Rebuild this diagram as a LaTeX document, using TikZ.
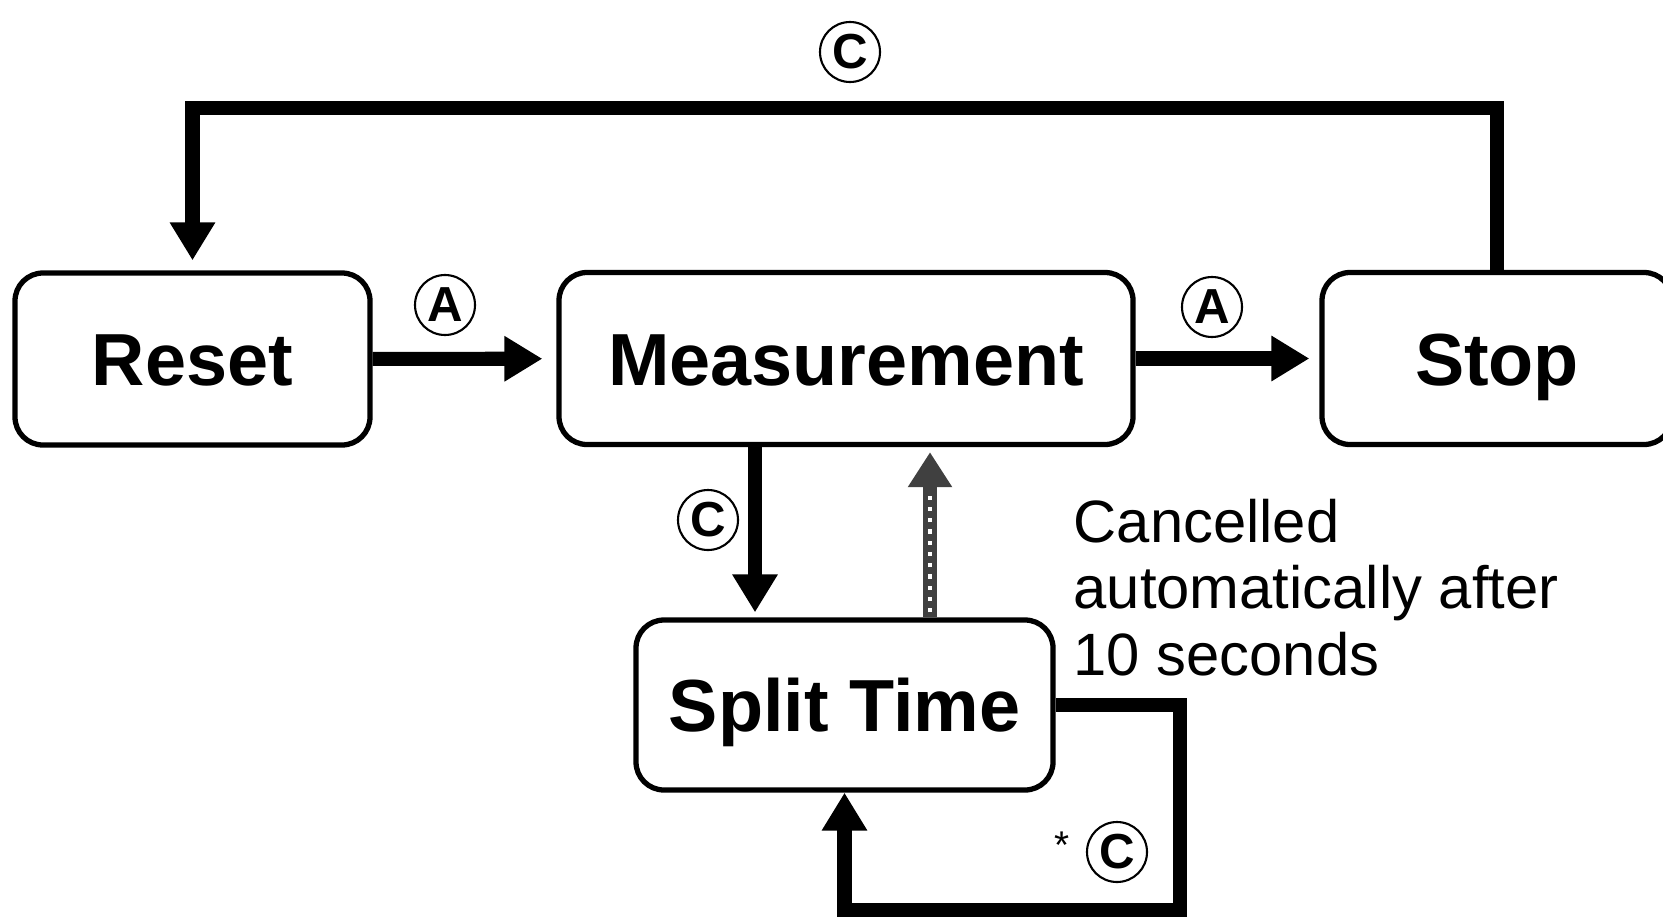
\documentclass[tikz,border=0pt]{standalone}
\usepackage{fontspec}
\setmainfont{Liberation Sans}
\usetikzlibrary{arrows.meta}
\newcommand{\boxFont}{\fontsize{21}{25}\selectfont\bfseries}
\newcommand{\noteFont}{\fontsize{17}{18.8}\selectfont}
\newcommand{\keyFont}{\fontsize{14}{16}\selectfont\bfseries}
\newcommand{\headTip}{Triangle[length=0.38cm,width=0.43cm]}

\begin{document}
\begin{tikzpicture}[
      state/.style={draw, line width=1.5pt, rounded corners=0.28cm, font=\boxFont,
         minimum height=1.72cm, inner sep=0pt, text height=15.2pt, text depth=0pt},
      flow/.style={line width=4pt, -{\headTip}},
      key/.style={circle, draw, line width=0.6pt, minimum size=0.6cm, inner sep=0pt,
         font=\keyFont}]
         \useasboundingbox (0,0) rectangle (16.63,-9.18);
         \clip (0,0) rectangle (16.63,-9.18);

         \node[state, minimum width=3.55cm] (reset) at (1.925,-3.59) {Reset};
         \node[state, minimum width=5.74cm] (meas) at (8.46,-3.585) {Measurement};
         \node[state, minimum width=3.50cm] (stop) at (14.97,-3.585) {Stop};
         \node[state, minimum width=4.17cm, minimum height=1.70cm] (split) at (8.445,-7.05) {Split Time};

         \coordinate (toprow) at (0,-1.08);
         \coordinate (downcol) at (7.55,0);
         \coordinate (backcol) at (9.30,0);
         \coordinate (loopcorner) at (11.80,-9.10);

         \draw[flow, shorten >=0.14cm] (reset) -- (meas);
         \draw[flow, shorten >=0.10cm] (meas) -- (stop);
         \draw[flow, shorten >=0.10cm] (stop.north) -- (stop.north |- toprow) -| (reset.north);
         \draw[flow, shorten >=0.05cm] (meas.south -| downcol) -- (split.north -| downcol);
         \draw[flow] (split.east) -| (loopcorner) -| (split.south);

         \draw[line width=4pt, black!75, -{Triangle[length=0.35cm,width=0.42cm]}, shorten >=0.05cm]
            (split.north -| backcol) -- (meas.south -| backcol);
         \draw[white, line width=1.2pt, dash pattern=on 1.2pt off 2pt, shorten <=0.05cm, shorten >=0.45cm]
            (split.north -| backcol) -- (meas.south -| backcol);

         \node[key] (keyc) at (8.50,-0.52) {C};
         \node[key] (keya) at (4.45,-3.05) {A};
         \node[key] (keyb) at (12.12,-3.07) {A};
         \node[key] (keyd) at (7.08,-5.20) {C};
         \node[key] (keye) at (11.17,-8.52) {C};
         \node[font=\fontsize{11}{12}\selectfont, inner sep=0pt] (star) at (10.62,-8.45) {*};

         \node[anchor=base west, align=left, font=\noteFont, inner sep=0pt] (note) at (10.73,-6.75)
            {Cancelled\\automatically after\\10 seconds};
      \end{tikzpicture}
\end{document}
